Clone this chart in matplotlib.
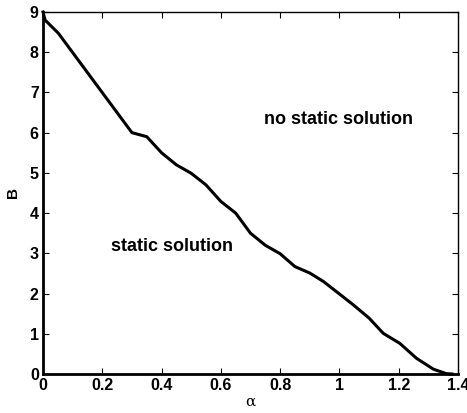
import matplotlib
matplotlib.use('Agg')
import matplotlib.pyplot as plt

# boundary between static / no static solution
alpha = [0.0, 0.007, 0.052, 0.30, 0.35, 0.40, 0.45, 0.50, 0.55, 0.60, 0.65,
         0.70, 0.75, 0.80, 0.85, 0.90, 0.946, 1.0, 1.05, 1.10, 1.148, 1.204,
         1.26, 1.317, 1.36, 1.38]
B = [9.0, 8.8, 8.47, 6.0, 5.9, 5.5, 5.2, 4.99, 4.7, 4.29, 4.0,
     3.5, 3.2, 2.99, 2.67, 2.51, 2.30, 1.99, 1.70, 1.39, 1.01, 0.76,
     0.39, 0.12, 0.01, 0.0]

xticks = [0, 0.2, 0.4, 0.6, 0.8, 1, 1.2, 1.4]
xticklabels = ['0', '0.2', '0.4', '0.6', '0.8', '1', '1.2', '1.4']
yticks = list(range(10))

plt.rcParams['font.family'] = ['Liberation Sans', 'DejaVu Sans']

fig = plt.figure(figsize=(4.67, 4.13), dpi=100)
ax = fig.add_axes([43 / 467, 1 - 374 / 413, 415 / 467, 362 / 413])
ax.plot(alpha, B, color='black', lw=2.2, clip_on=False, zorder=3)

ax.set_xlim(0, 1.4)
ax.set_ylim(0, 9)
ax.set_xticks(xticks)
ax.set_xticklabels(xticklabels)
ax.set_yticks(yticks)
ax.tick_params(direction='in', top=True, right=True, length=4, width=0.8,
               labelsize=11.5, pad=3)
for lab in ax.get_xticklabels() + ax.get_yticklabels():
    lab.set_fontweight('bold')
for s in ['left', 'bottom']:
    ax.spines[s].set_linewidth(2)
for s in ['top', 'right']:
    ax.spines[s].set_linewidth(1)

ax.set_xlabel('α', fontsize=11, labelpad=1, family='DejaVu Serif')
ax.set_ylabel('B', fontsize=11, fontweight='bold', labelpad=7)

ax.text(0.996, 6.32, 'no static solution', fontsize=13, fontweight='bold',
        ha='center', va='center')
ax.text(0.434, 3.17, 'static solution', fontsize=13, fontweight='bold',
        ha='center', va='center')

fig.savefig('out.png', dpi=100)
